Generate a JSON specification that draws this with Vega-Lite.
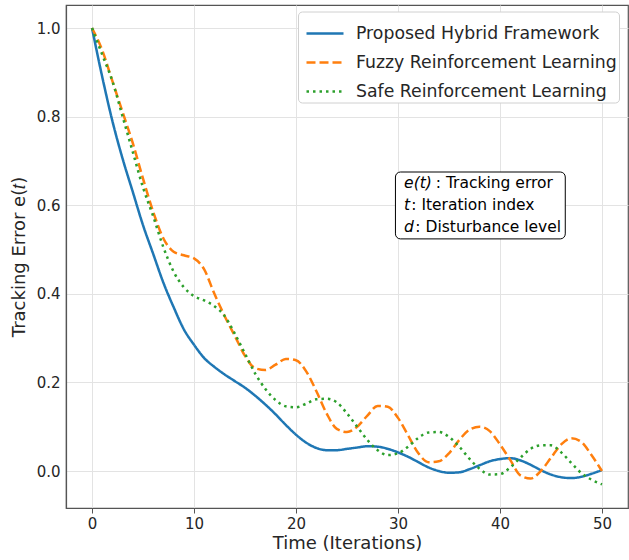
{
  "$schema": "https://vega.github.io/schema/vega-lite/v6.json",
  "width": 562,
  "height": 503,
  "autosize": {"type": "none"},
  "padding": {"left": 66, "top": 5, "right": 1, "bottom": 52},
  "config": {
    "font": "DejaVu Sans",
    "view": {"stroke": "#555", "strokeWidth": 1.2},
    "axis": {"labelFont": "DejaVu Sans", "titleFont": "DejaVu Sans", "labelColor": "#262626", "titleColor": "#262626", "titleFontWeight": "normal", "gridColor": "#e3e3e3", "gridWidth": 1, "domainColor": "#555", "domainWidth": 1.2, "tickColor": "#555"}
  },
  "datasets": {
    "curves": [
      {"x":0,"Proposed Hybrid Framework":1.0,"Fuzzy Reinforcement Learning":1.0,"Safe Reinforcement Learning":1.0},
      {"x":1,"Proposed Hybrid Framework":0.89,"Fuzzy Reinforcement Learning":0.95,"Safe Reinforcement Learning":0.94},
      {"x":2,"Proposed Hybrid Framework":0.79,"Fuzzy Reinforcement Learning":0.88,"Safe Reinforcement Learning":0.88},
      {"x":3,"Proposed Hybrid Framework":0.705,"Fuzzy Reinforcement Learning":0.81,"Safe Reinforcement Learning":0.80},
      {"x":4,"Proposed Hybrid Framework":0.63,"Fuzzy Reinforcement Learning":0.74,"Safe Reinforcement Learning":0.72},
      {"x":5,"Proposed Hybrid Framework":0.555,"Fuzzy Reinforcement Learning":0.66,"Safe Reinforcement Learning":0.64},
      {"x":6,"Proposed Hybrid Framework":0.49,"Fuzzy Reinforcement Learning":0.585,"Safe Reinforcement Learning":0.575},
      {"x":7,"Proposed Hybrid Framework":0.425,"Fuzzy Reinforcement Learning":0.525,"Safe Reinforcement Learning":0.505},
      {"x":8,"Proposed Hybrid Framework":0.37,"Fuzzy Reinforcement Learning":0.495,"Safe Reinforcement Learning":0.45},
      {"x":9,"Proposed Hybrid Framework":0.32,"Fuzzy Reinforcement Learning":0.487,"Safe Reinforcement Learning":0.415},
      {"x":10,"Proposed Hybrid Framework":0.285,"Fuzzy Reinforcement Learning":0.48,"Safe Reinforcement Learning":0.395},
      {"x":11,"Proposed Hybrid Framework":0.255,"Fuzzy Reinforcement Learning":0.455,"Safe Reinforcement Learning":0.385},
      {"x":12,"Proposed Hybrid Framework":0.235,"Fuzzy Reinforcement Learning":0.40,"Safe Reinforcement Learning":0.372},
      {"x":13,"Proposed Hybrid Framework":0.218,"Fuzzy Reinforcement Learning":0.35,"Safe Reinforcement Learning":0.35},
      {"x":14,"Proposed Hybrid Framework":0.203,"Fuzzy Reinforcement Learning":0.305,"Safe Reinforcement Learning":0.31},
      {"x":15,"Proposed Hybrid Framework":0.188,"Fuzzy Reinforcement Learning":0.26,"Safe Reinforcement Learning":0.265},
      {"x":16,"Proposed Hybrid Framework":0.17,"Fuzzy Reinforcement Learning":0.232,"Safe Reinforcement Learning":0.22},
      {"x":17,"Proposed Hybrid Framework":0.15,"Fuzzy Reinforcement Learning":0.228,"Safe Reinforcement Learning":0.185},
      {"x":18,"Proposed Hybrid Framework":0.128,"Fuzzy Reinforcement Learning":0.24,"Safe Reinforcement Learning":0.16},
      {"x":19,"Proposed Hybrid Framework":0.104,"Fuzzy Reinforcement Learning":0.253,"Safe Reinforcement Learning":0.146},
      {"x":20,"Proposed Hybrid Framework":0.082,"Fuzzy Reinforcement Learning":0.25,"Safe Reinforcement Learning":0.144},
      {"x":21,"Proposed Hybrid Framework":0.064,"Fuzzy Reinforcement Learning":0.225,"Safe Reinforcement Learning":0.152},
      {"x":22,"Proposed Hybrid Framework":0.052,"Fuzzy Reinforcement Learning":0.18,"Safe Reinforcement Learning":0.162},
      {"x":23,"Proposed Hybrid Framework":0.047,"Fuzzy Reinforcement Learning":0.13,"Safe Reinforcement Learning":0.163},
      {"x":24,"Proposed Hybrid Framework":0.047,"Fuzzy Reinforcement Learning":0.095,"Safe Reinforcement Learning":0.155},
      {"x":25,"Proposed Hybrid Framework":0.05,"Fuzzy Reinforcement Learning":0.088,"Safe Reinforcement Learning":0.13},
      {"x":26,"Proposed Hybrid Framework":0.053,"Fuzzy Reinforcement Learning":0.10,"Safe Reinforcement Learning":0.10},
      {"x":27,"Proposed Hybrid Framework":0.056,"Fuzzy Reinforcement Learning":0.125,"Safe Reinforcement Learning":0.07},
      {"x":28,"Proposed Hybrid Framework":0.055,"Fuzzy Reinforcement Learning":0.147,"Safe Reinforcement Learning":0.047},
      {"x":29,"Proposed Hybrid Framework":0.05,"Fuzzy Reinforcement Learning":0.145,"Safe Reinforcement Learning":0.036},
      {"x":30,"Proposed Hybrid Framework":0.042,"Fuzzy Reinforcement Learning":0.12,"Safe Reinforcement Learning":0.04},
      {"x":31,"Proposed Hybrid Framework":0.032,"Fuzzy Reinforcement Learning":0.08,"Safe Reinforcement Learning":0.055},
      {"x":32,"Proposed Hybrid Framework":0.02,"Fuzzy Reinforcement Learning":0.04,"Safe Reinforcement Learning":0.075},
      {"x":33,"Proposed Hybrid Framework":0.008,"Fuzzy Reinforcement Learning":0.02,"Safe Reinforcement Learning":0.087},
      {"x":34,"Proposed Hybrid Framework":0.0,"Fuzzy Reinforcement Learning":0.022,"Safe Reinforcement Learning":0.088},
      {"x":35,"Proposed Hybrid Framework":-0.004,"Fuzzy Reinforcement Learning":0.04,"Safe Reinforcement Learning":0.077},
      {"x":36,"Proposed Hybrid Framework":-0.003,"Fuzzy Reinforcement Learning":0.07,"Safe Reinforcement Learning":0.055},
      {"x":37,"Proposed Hybrid Framework":0.004,"Fuzzy Reinforcement Learning":0.093,"Safe Reinforcement Learning":0.028},
      {"x":38,"Proposed Hybrid Framework":0.013,"Fuzzy Reinforcement Learning":0.10,"Safe Reinforcement Learning":0.005},
      {"x":39,"Proposed Hybrid Framework":0.022,"Fuzzy Reinforcement Learning":0.09,"Safe Reinforcement Learning":-0.008},
      {"x":40,"Proposed Hybrid Framework":0.027,"Fuzzy Reinforcement Learning":0.06,"Safe Reinforcement Learning":-0.007},
      {"x":41,"Proposed Hybrid Framework":0.029,"Fuzzy Reinforcement Learning":0.025,"Safe Reinforcement Learning":0.008},
      {"x":42,"Proposed Hybrid Framework":0.024,"Fuzzy Reinforcement Learning":-0.01,"Safe Reinforcement Learning":0.03},
      {"x":43,"Proposed Hybrid Framework":0.014,"Fuzzy Reinforcement Learning":-0.017,"Safe Reinforcement Learning":0.05},
      {"x":44,"Proposed Hybrid Framework":0.002,"Fuzzy Reinforcement Learning":0.0,"Safe Reinforcement Learning":0.058},
      {"x":45,"Proposed Hybrid Framework":-0.008,"Fuzzy Reinforcement Learning":0.03,"Safe Reinforcement Learning":0.058},
      {"x":46,"Proposed Hybrid Framework":-0.014,"Fuzzy Reinforcement Learning":0.06,"Safe Reinforcement Learning":0.042},
      {"x":47,"Proposed Hybrid Framework":-0.016,"Fuzzy Reinforcement Learning":0.074,"Safe Reinforcement Learning":0.018},
      {"x":48,"Proposed Hybrid Framework":-0.013,"Fuzzy Reinforcement Learning":0.065,"Safe Reinforcement Learning":-0.005},
      {"x":49,"Proposed Hybrid Framework":-0.006,"Fuzzy Reinforcement Learning":0.035,"Safe Reinforcement Learning":-0.02},
      {"x":50,"Proposed Hybrid Framework":0.002,"Fuzzy Reinforcement Learning":0.0,"Safe Reinforcement Learning":-0.03}
    ],
    "box": [{"x1": 29.75, "x2": 46.4, "y1": 0.675, "y2": 0.524}],
    "notes": [
      {"var": "e(t)", "desc": ": Tracking error", "xv": 30.6, "xd": 33.7, "yl": 0.650},
      {"var": "t", "desc": ": Iteration index", "xv": 30.6, "xd": 31.3, "yl": 0.600},
      {"var": "d", "desc": ": Disturbance level", "xv": 30.6, "xd": 31.7, "yl": 0.551}
    ]
  },
  "layer": [
    {
      "data": {"name": "curves"},
      "transform": [{"fold": ["Proposed Hybrid Framework", "Fuzzy Reinforcement Learning", "Safe Reinforcement Learning"], "as": ["series", "y"]}],
      "mark": {"type": "line", "interpolate": "monotone", "strokeWidth": 2.5, "clip": true},
      "encoding": {
        "x": {"field": "x", "type": "quantitative", "scale": {"domain": [-2.55, 52.55], "nice": false, "zero": false},
          "axis": {"values": [0,10,20,30,40,50], "title": "Time (Iterations)", "labelFontSize": 15, "titleFontSize": 18, "tickSize": 5, "labelPadding": 3, "titlePadding": 3, "grid": true}},
        "y": {"field": "y", "type": "quantitative", "scale": {"domain": [-0.0835, 1.052], "nice": false, "zero": false},
          "axis": {"values": [0,0.2,0.4,0.6,0.8,1.0], "format": ".1f", "title": "Tracking Error e(𝑡)", "labelFontSize": 15, "titleFontSize": 18, "tickSize": 0, "labelPadding": 6, "titlePadding": 8, "grid": true}},
        "color": {"field": "series", "type": "nominal",
          "scale": {"domain": ["Proposed Hybrid Framework", "Fuzzy Reinforcement Learning", "Safe Reinforcement Learning"], "range": ["#1f77b4", "#ff7f0e", "#2ca02c"]},
          "legend": {"title": null, "orient": "none", "legendX": 232, "legendY": 6.5, "labelFontSize": 17.3, "labelLimit": 500, "labelExpr": "datum.label + '    '", "labelColor": "#262626", "symbolType": "stroke", "symbolSize": 1369, "symbolStrokeWidth": 2.5, "symbolOffset": 5, "rowPadding": -9, "labelOffset": 11, "padding": 2, "strokeColor": "#d0d0d0", "fillColor": "white", "cornerRadius": 4}},
        "strokeDash": {"field": "series", "type": "nominal",
          "scale": {"domain": ["Proposed Hybrid Framework", "Fuzzy Reinforcement Learning", "Safe Reinforcement Learning"], "range": [[1, 0], [9, 4], [2.5, 4]]},
          "legend": null}
      }
    },
    {
      "data": {"name": "box"},
      "mark": {"type": "rect", "fill": "white", "stroke": "black", "strokeWidth": 1, "cornerRadius": 5},
      "encoding": {"x": {"field": "x1", "type": "quantitative"}, "x2": {"field": "x2"}, "y": {"field": "y1", "type": "quantitative"}, "y2": {"field": "y2"}}
    },
    {
      "data": {"name": "notes"},
      "mark": {"type": "text", "align": "left", "baseline": "middle", "fontSize": 15.5, "fontStyle": "italic", "color": "black"},
      "encoding": {"x": {"field": "xv", "type": "quantitative"}, "y": {"field": "yl", "type": "quantitative"}, "text": {"field": "var"}}
    },
    {
      "data": {"name": "notes"},
      "mark": {"type": "text", "align": "left", "baseline": "middle", "fontSize": 15.5, "color": "black"},
      "encoding": {"x": {"field": "xd", "type": "quantitative"}, "y": {"field": "yl", "type": "quantitative"}, "text": {"field": "desc"}}
    }
  ]
}
